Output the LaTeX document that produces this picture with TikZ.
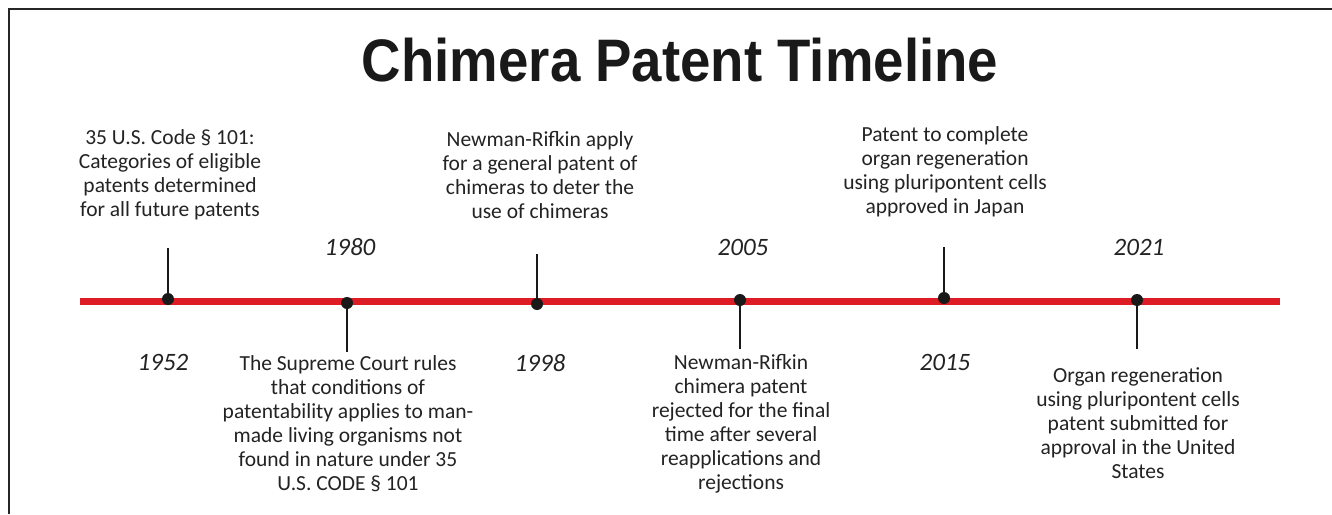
\documentclass[tikz,border=0pt]{standalone}
\usepackage{fontspec}
\usepackage{graphicx}
\setmainfont{Carlito}
\newfontfamily\titlefont{Liberation Sans}
\definecolor{linered}{RGB}{222,28,38}
\definecolor{txtgray}{RGB}{35,35,35}
\definecolor{ink}{RGB}{25,25,25}
\begin{document}
\begin{tikzpicture}[x=1pt,y=-1pt,
  evtxt/.style={align=center, inner sep=0pt, text=txtgray, font=\fontsize{21.5}{24}\selectfont},
  yeartxt/.style={inner sep=0pt, text=txtgray, font=\fontsize{25}{28}\selectfont\itshape},
  stem/.style={line width=2.5pt, draw=ink},
  dot/.style={circle, fill=ink, minimum size=12pt, inner sep=0pt}]
\useasboundingbox (0,0) rectangle (1332,514);
\fill[white] (0,0) rectangle (1332,514);
% frame edges
\draw[line width=2pt, draw=black!85] (8.5,514) -- (8.5,9) -- (1332,9);

% title
\node[inner sep=0pt, text=ink, font=\titlefont\bfseries\fontsize{60}{64}\selectfont] (title) at (680,60) {\scalebox{0.91}[1]{Chimera Patent Timeline}};

% main axis
\coordinate (axL) at (80,301);
\coordinate (axR) at (1280,301);
\draw[line width=7pt, draw=linered] (axL) -- (axR);

% event markers
\coordinate (s1952) at (168,248);
\coordinate (s1980) at (347,352);
\coordinate (s1998) at (537,254);
\coordinate (s2005) at (740,349);
\coordinate (s2015) at (944,247);
\coordinate (s2021) at (1137,349);

\node[dot] (d1952) at (168,299) {};
\node[dot] (d1980) at (347,303) {};
\node[dot] (d1998) at (537,304) {};
\node[dot] (d2005) at (740,300) {};
\node[dot] (d2015) at (944,298) {};
\node[dot] (d2021) at (1137,300) {};

\foreach \y in {1952,1980,1998,2005,2015,2021}{
  \draw[stem] (d\y.center) -- (s\y);
}

% years
\node[yeartxt] (y1952) at (163,362) {1952};
\node[yeartxt] (y1980) at (350,247) {1980};
\node[yeartxt] (y1998) at (540,363) {1998};
\node[yeartxt] (y2005) at (743,247) {2005};
\node[yeartxt] (y2015) at (945,362) {2015};
\node[yeartxt] (y2021) at (1139,247) {2021};

% event descriptions
\node[evtxt] (t1952) at (170,175) {35 U.S. Code \S{} 101:\\Categories of eligible\\patents determined\\for all future patents};
\node[evtxt] (t1998) at (540,175) {Newman-Rifkin apply\\for a general patent of\\chimeras to deter the\\use of chimeras};
\node[evtxt] (t2015) at (945,172) {Patent to complete\\organ regeneration\\using pluripontent cells\\approved in Japan};
\node[evtxt] (t1980) at (348,424) {The Supreme Court rules\\that conditions of\\patentability applies to man-\\made living organisms not\\found in nature under 35\\U.S. CODE \S{} 101};
\node[evtxt] (t2005) at (741,424) {Newman-Rifkin\\chimera patent\\rejected for the final\\time after several\\reapplications and\\rejections};
\node[evtxt] (t2021) at (1138,423) {Organ regeneration\\using pluripontent cells\\patent submitted for\\approval in the United\\States};
\end{tikzpicture}
\end{document}
